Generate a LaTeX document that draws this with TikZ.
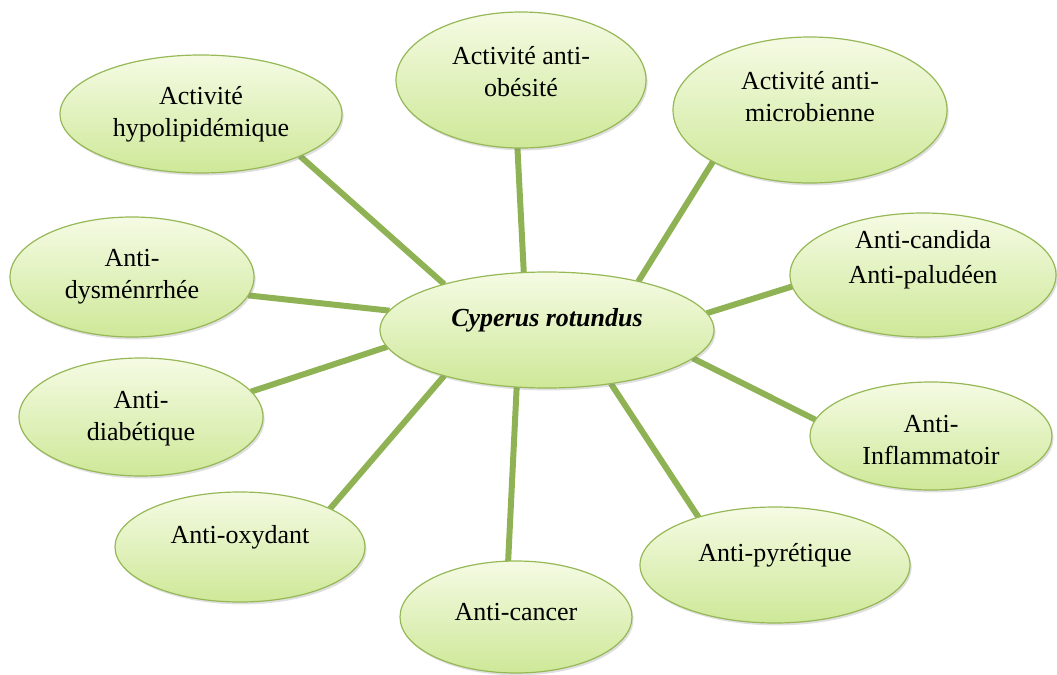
\documentclass[tikz,border=0pt]{standalone}
\usepackage{fontspec}
\setmainfont{Liberation Serif}
\usetikzlibrary{shapes.geometric}
\usetikzlibrary{shadows}
\usetikzlibrary{backgrounds}
\definecolor{vertlien}{RGB}{143,179,84}
\definecolor{vertbord}{RGB}{150,184,86}
\definecolor{vertclair}{RGB}{245,251,228}
\definecolor{vertfonce}{RGB}{206,232,152}
\tikzset{
  bulle/.style={ellipse, draw=vertbord, line width=0.6pt,
    top color=vertclair, bottom color=vertfonce, inner sep=0pt, outer sep=0pt,
    drop shadow={opacity=0.25, shadow xshift=0.8pt, shadow yshift=-1.2pt}},
  texte/.style={align=center, font=\fontsize{13}{16}\selectfont},
  lien/.style={draw=vertlien, line width=3pt}
}
% #1 name, #2 centre, #3/#4 size, #5 lift of the text, #6 text
\newcommand{\bulle}[6]{%
  \node[bulle, minimum width=#3pt, minimum height=#4pt,
    label={[texte, name=t#1, yshift=#5pt]center:{#6}}] (#1) at (#2) {};}

\begin{document}
\begin{tikzpicture}[x=0.5pt, y=-0.5pt]
\useasboundingbox (0,0) rectangle (1057,675);

\bulle{cr}{547,330}{167}{58}{5}{\textbf{\textit{Cyperus rotundus}}}
\bulle{hyp}{201,114}{141}{59}{0}{Activité\\hypolipidémique}
\bulle{obe}{521,80}{125}{68}{4}{Activité anti-\\obésité}
\bulle{mic}{810,110}{137}{73}{6.5}{Activité anti-\\microbienne}
\bulle{can}{923,275}{133}{62}{7.5}{Anti-candida\\[1.5pt]Anti-paludéen}
\bulle{inf}{931,436}{121}{54}{-2}{Anti-\\Inflammatoir}
\bulle{pyr}{775,565}{135}{58}{5}{Anti-pyrétique}
\bulle{cnc}{516,617}{116}{56}{2.5}{Anti-cancer}
\bulle{oxy}{240,547}{125}{55}{5}{Anti-oxydant}
\bulle{dia}{141,417}{122}{59}{-1}{Anti-\\diabétique}
\bulle{dys}{132,277}{122}{60}{0}{Anti-\\dysménrrhée}

%links to the centre
\begin{scope}[on background layer]
\foreach \n/\a/\b in {hyp/-23/156, obe/-93/112, mic/208/28, can/185/6, inf/172/-11,
    pyr/148/-40, cnc/98/-118, oxy/23/204, dia/13/186, dys/-9/173}
  \draw[lien] (\n.\a) -- (cr.\b);
\end{scope}
\end{tikzpicture}
\end{document}
